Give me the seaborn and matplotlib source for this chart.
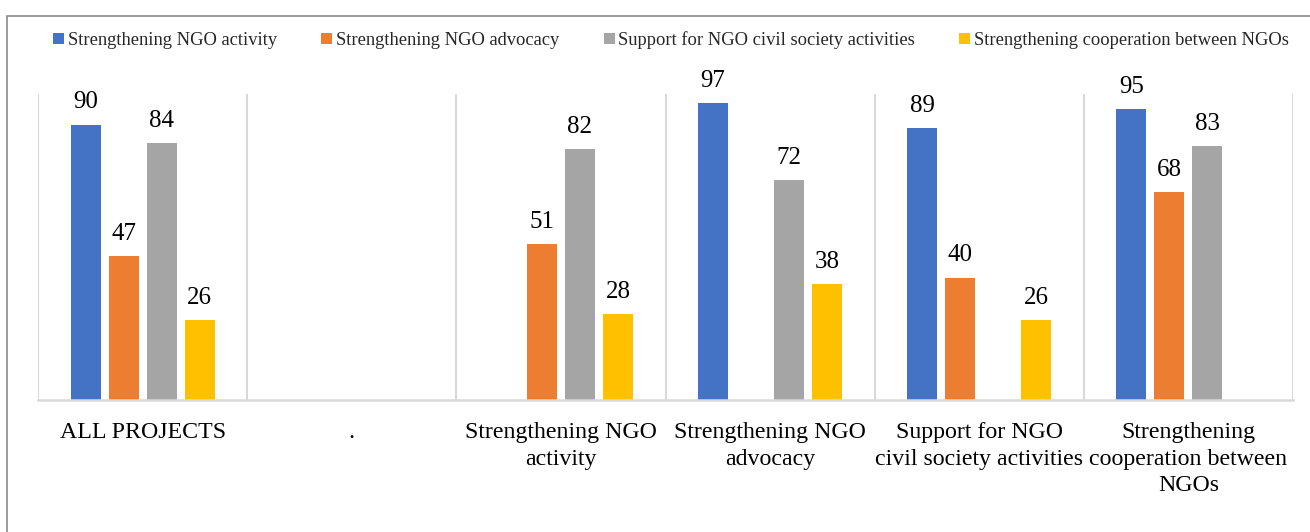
import numpy as np
import pandas as pd
import matplotlib
matplotlib.use("Agg")
import matplotlib.pyplot as plt
from matplotlib.patches import Rectangle, Patch
import seaborn as sns

categories = [
    "ALL PROJECTS",
    ".",
    "Strengthening NGO\nactivity",
    "Strengthening NGO\nadvocacy",
    "Support for NGO\ncivil society activities",
    "Strengthening\ncooperation between\nNGOs",
]
series = [
    "Strengthening NGO activity",
    "Strengthening NGO advocacy",
    "Support for NGO civil society activities",
    "Strengthening cooperation between NGOs",
]
activity = [90, np.nan, np.nan, 97, 89, 95]
advocacy = [47, np.nan, 51, np.nan, 40, 68]
civil_society = [84, np.nan, 82, 72, np.nan, 83]
cooperation = [26, np.nan, 28, 38, 26, np.nan]
colors = ["#4472C4", "#ED7D31", "#A5A5A5", "#FFC000"]

rows = []
for name, vals in zip(series, [activity, advocacy, civil_society, cooperation]):
    for cat, v in zip(categories, vals):
        rows.append({"category": cat, "series": name, "value": v})
df = pd.DataFrame(rows)

sns.set_theme(style="white")
plt.rcParams["font.family"] = ["Liberation Serif", "DejaVu Serif"]

fig = plt.figure(figsize=(13.1, 5.32), dpi=100)
ax = fig.add_axes([38 / 1310, 1 - 400 / 532, (1293 - 38) / 1310, (400 - 94) / 532])

sns.barplot(
    data=df, x="category", y="value", hue="series",
    order=categories, hue_order=series, palette=colors,
    width=0.727, gap=0.21, errorbar=None, legend=False, ax=ax,
    saturation=1, linewidth=0,
)

for cont in ax.containers:
    ax.bar_label(cont, fmt="%.0f", padding=8, fontsize=18, color="#000000")

ax.set_ylim(0, 100)
ax.set_xlim(-0.5, len(categories) - 0.5)
ax.set_xlabel("")
ax.set_ylabel("")
ax.set_yticks([])
ax.set_xticks(range(len(categories)))
ax.set_xticklabels(categories, fontsize=17.2, linespacing=1.34, va="top")
ax.tick_params(axis="x", length=0, pad=16, colors="#000000")

# category separators
ax.set_xticks(np.arange(-0.5, len(categories), 1.0), minor=True)
ax.tick_params(axis="x", which="minor", length=0)
ax.grid(axis="x", which="minor", color="#d9d9d9", linewidth=1.5)
ax.grid(axis="x", which="major", visible=False)
ax.grid(axis="y", visible=False)
for s in ["top", "left", "right"]:
    ax.spines[s].set_visible(False)
ax.spines["bottom"].set_color("#d9d9d9")
ax.spines["bottom"].set_linewidth(1.8)
ax.set_axisbelow(True)

handles = [Patch(facecolor=c, edgecolor="none") for c in colors]
fig.legend(
    handles, series, loc="center", bbox_to_anchor=(671 / 1310, 1 - 40 / 532),
    ncol=4, frameon=False, fontsize=13.3, handlelength=0.6, handleheight=0.6,
    handletextpad=0.2, columnspacing=2.4,
)

# outer chart frame
fig.patches.append(Rectangle(
    (7 / 1310, -0.1), 1.1, 1 - 16 / 532 + 0.1, transform=fig.transFigure,
    fill=False, edgecolor="#8a8a8a", linewidth=1.2,
))

fig.savefig("out.png", dpi=100)
